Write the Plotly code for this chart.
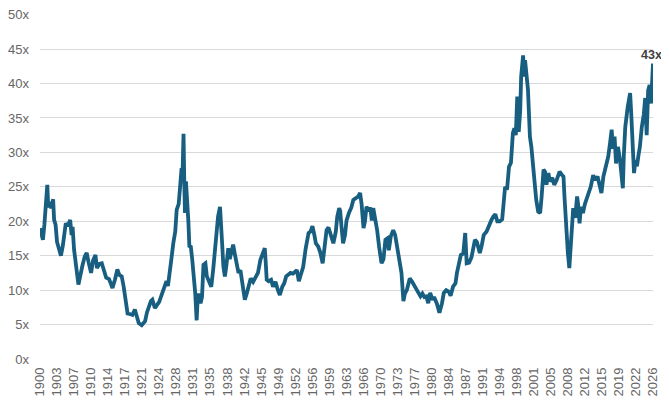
import plotly.graph_objects as go

# cyclically adjusted P/E (decimal year, multiple)
years = [
    1900.0, 1900.3, 1900.6, 1900.9, 1901.2, 1901.5, 1901.7, 1902.0, 1902.3, 1902.7,
    1902.9, 1903.2, 1903.5, 1904.0, 1904.3, 1904.7, 1905.0, 1905.3, 1905.7, 1906.2,
    1906.5, 1906.7, 1907.0, 1907.3, 1907.6, 1907.9, 1908.3, 1908.7, 1909.2, 1909.6,
    1910.0, 1910.5, 1910.9, 1911.4, 1911.7, 1912.2, 1912.7, 1913.2, 1913.6, 1914.2,
    1914.9, 1915.4, 1915.9, 1916.3, 1916.8, 1917.2, 1917.7, 1918.0, 1918.6, 1919.0,
    1919.5, 1919.9, 1920.3, 1920.9, 1921.6, 1922.0, 1922.4, 1922.8, 1923.1, 1923.6,
    1924.0, 1924.5, 1925.0, 1925.5, 1926.0, 1926.3, 1926.7, 1927.0, 1927.4, 1927.8,
    1928.1, 1928.5, 1928.8, 1929.1, 1929.3, 1929.5, 1929.65, 1929.8, 1930.0, 1930.2,
    1930.5, 1930.7, 1931.0, 1931.3, 1931.6, 1931.9, 1932.2, 1932.4, 1932.7, 1933.0,
    1933.3, 1933.6, 1934.0, 1934.3, 1934.6, 1934.9, 1935.2, 1935.6, 1935.9, 1936.2,
    1936.6, 1937.0, 1937.3, 1937.5, 1937.7, 1938.0, 1938.3, 1938.7, 1939.0, 1939.3,
    1939.7, 1940.0, 1940.4, 1940.8, 1941.2, 1941.6, 1942.1, 1942.5, 1942.9, 1943.3,
    1943.8, 1944.3, 1944.8, 1945.3, 1945.8, 1946.2, 1946.4, 1946.6, 1947.0, 1947.5,
    1947.9, 1948.4, 1948.9, 1949.3, 1949.8, 1950.2, 1950.6, 1951.0, 1951.5, 1952.0,
    1952.8, 1953.2, 1953.7, 1954.1, 1954.6, 1955.2, 1955.6, 1956.0, 1956.4, 1956.7,
    1957.2, 1957.6, 1958.1, 1958.5, 1958.9, 1959.3, 1959.8, 1960.3, 1960.8, 1961.1,
    1961.5, 1961.7, 1962.0, 1962.3, 1962.7, 1963.0, 1963.5, 1964.0, 1964.4, 1964.9,
    1965.4, 1965.8, 1966.1, 1966.5, 1966.8, 1967.1, 1967.6, 1967.9, 1968.2, 1968.5,
    1968.9, 1969.3, 1969.7, 1970.2, 1970.6, 1971.0, 1971.4, 1971.7, 1972.1, 1972.6,
    1973.0, 1973.4, 1973.9, 1974.3, 1974.7, 1975.0, 1975.4, 1976.0, 1976.5, 1977.0,
    1977.5, 1978.2, 1978.6, 1979.0, 1979.4, 1979.8, 1980.2, 1980.7, 1981.0, 1981.6,
    1982.1, 1982.6, 1983.0, 1983.5, 1984.0, 1984.4, 1984.9, 1985.4, 1985.7, 1986.0,
    1986.5, 1987.0, 1987.4, 1987.7, 1988.2, 1988.7, 1989.4, 1989.8, 1990.4, 1990.8,
    1991.2, 1991.8, 1992.3, 1992.8, 1993.2, 1993.6, 1994.0, 1994.5, 1995.0, 1995.6,
    1996.0, 1996.4, 1996.8, 1997.2, 1997.5, 1997.8, 1998.1, 1998.4, 1998.7, 1998.9,
    1999.3, 1999.5, 1999.7, 2000.0, 2000.3, 2000.7, 2001.0, 2001.4, 2001.7, 2002.0,
    2002.4, 2002.8, 2003.1, 2003.5, 2003.8, 2004.1, 2004.5, 2004.8, 2005.3, 2005.7,
    2006.2, 2006.8, 2007.2, 2007.6, 2007.8, 2008.1, 2008.5, 2008.8, 2009.2, 2009.6,
    2010.0, 2010.4, 2010.6, 2010.9, 2011.2, 2011.6, 2012.0, 2012.6, 2013.2, 2013.7,
    2014.1, 2014.6, 2015.0, 2015.4, 2015.8, 2016.3, 2016.8, 2017.2, 2017.5, 2017.8,
    2018.1, 2018.4, 2018.8, 2019.2, 2019.8, 2020.0, 2020.3, 2020.8, 2021.3, 2021.5,
    2021.8, 2022.1, 2022.4, 2022.7, 2023.0, 2023.3, 2023.7, 2024.1, 2024.4, 2024.7,
    2025.0, 2025.3, 2025.6, 2025.8, 2026.0,
]
cape = [
    19.0, 18.0, 17.3, 19.5, 22.5, 25.3, 22.0, 22.8, 21.9, 23.2,
    20.2, 19.5, 17.0, 15.4, 15.0, 16.5, 18.5, 19.7, 19.3, 20.2,
    18.0, 19.2, 15.9, 13.5, 12.5, 10.8, 12.5, 13.5, 14.9, 15.4,
    14.0, 12.5, 14.3, 15.1, 13.2, 13.8, 13.9, 12.5, 11.8, 11.6,
    10.3, 11.5, 13.0, 12.2, 12.0, 10.5, 8.1, 6.6, 6.5, 6.4,
    7.2, 6.3, 5.2, 4.9, 5.5, 6.8, 7.8, 8.4, 8.6, 7.4,
    7.8, 8.3, 9.3, 10.2, 11.3, 10.6, 13.5, 14.5, 16.8, 18.5,
    21.7, 22.5, 25.0, 27.7, 27.0, 32.7, 26.0, 21.2, 25.8, 22.0,
    20.0, 16.4, 16.3, 14.4, 12.0, 9.6, 5.6, 8.6, 9.5, 8.1,
    9.0, 13.7, 13.9, 12.0, 11.5, 11.0, 10.5, 13.0, 15.4, 18.7,
    20.7, 22.1, 19.2, 16.0, 13.4, 12.0, 13.5, 16.1, 14.5, 15.5,
    16.6, 15.4, 13.5, 12.5, 12.9, 10.5, 8.6, 9.5, 10.5, 11.7,
    11.2, 12.0, 12.5, 14.4, 15.5, 16.1, 14.0, 11.5, 11.3, 11.5,
    10.5, 11.2, 10.0, 9.3, 10.5, 11.0, 12.0, 12.2, 12.5, 12.4,
    12.9, 11.3, 12.5, 13.4, 16.0, 18.3, 18.5, 19.3, 18.0, 16.8,
    16.3, 15.5, 13.9, 16.5, 18.7, 19.1, 18.0, 16.8, 18.5, 20.7,
    21.9, 21.5, 19.0, 16.8, 18.0, 20.1, 21.2, 22.0, 23.1, 23.3,
    23.6, 24.1, 22.5, 19.0, 20.0, 22.1, 21.5, 22.0, 20.1, 21.9,
    20.5, 18.7, 16.3, 13.9, 14.5, 17.3, 17.5, 15.8, 17.8, 18.7,
    18.0, 16.3, 14.0, 12.5, 8.4, 9.5, 10.0, 11.7, 11.2, 10.5,
    10.0, 9.1, 9.5, 9.0, 9.1, 8.1, 9.6, 8.6, 9.0, 8.0,
    6.7, 8.0, 9.6, 10.0, 9.8, 9.2, 10.5, 11.0, 12.5, 13.7,
    15.1, 15.3, 18.3, 13.9, 14.0, 14.8, 17.3, 17.0, 15.4, 16.5,
    18.0, 18.5, 19.5, 20.2, 20.7, 21.0, 20.0, 20.0, 20.3, 25.0,
    24.6, 27.9, 28.5, 32.8, 33.5, 32.5, 38.1, 33.0, 36.0, 41.0,
    44.1, 41.0, 43.4, 41.5, 39.1, 32.3, 30.8, 27.7, 25.0, 23.1,
    21.4, 21.2, 23.5, 27.5, 27.2, 25.3, 27.0, 25.8, 26.3, 25.3,
    26.0, 27.2, 26.8, 26.5, 23.6, 19.3, 15.4, 13.2, 18.0, 21.9,
    20.5, 23.6, 22.5, 19.7, 22.1, 21.2, 22.5, 23.6, 25.0, 26.7,
    26.0, 26.5, 25.5, 24.1, 26.5, 28.0, 29.4, 31.5, 33.3, 30.5,
    32.3, 28.4, 30.8, 29.0, 24.8, 29.5, 33.7, 36.6, 38.6, 36.0,
    30.4, 27.0, 28.9, 28.0, 29.5, 30.8, 33.7, 35.5, 37.9, 32.5,
    39.0, 39.8, 37.1, 40.5, 42.9,
]

# axis labels every 42 months, as in the source chart
tick_years = [1900 + 3.5 * i for i in range(37)]
tick_text = [str(int(t)) for t in tick_years]
y_ticks = [0, 5, 10, 15, 20, 25, 30, 35, 40, 45, 50]
y_text = [f"{v}x" for v in y_ticks]
last_label = "43x"

line_color = "#175e80"
font = "Liberation Sans, Arial, sans-serif"

fig = go.Figure()
fig.add_trace(
    go.Scatter(
        x=years,
        y=cape,
        mode="lines",
        line=dict(color=line_color, width=3.8),
        hoverinfo="x+y",
        showlegend=False,
    )
)

fig.add_annotation(
    x=years[-1],
    y=cape[-1],
    text=f"<b>{last_label}</b>",
    showarrow=False,
    yanchor="bottom",
    xanchor="right",
    xshift=11,
    font=dict(family=font, size=12.5, color="#404040"),
)

# page body has an 8px margin, so the figure is sized to fit inside the window
fig.update_layout(
    width=661,
    height=396,
    margin=dict(l=32, r=16, t=6, b=45),
    paper_bgcolor="white",
    plot_bgcolor="white",
    font=dict(family=font, size=13, color="#666666"),
)
fig.update_xaxes(
    range=[1900, 2026],
    tickmode="array",
    tickvals=tick_years,
    ticktext=tick_text,
    tickangle=-90,
    showgrid=False,
    zeroline=False,
    showline=False,
    ticks="",
    ticklabelstandoff=5,
    ticklabeloverflow="allow",
    automargin=False,
)
# a hair above 50 so the top gridline is not dropped at the edge
fig.update_yaxes(
    range=[0, 50.1],
    tickmode="array",
    tickvals=y_ticks,
    ticktext=y_text,
    showgrid=True,
    gridcolor="#d9d9d9",
    gridwidth=1.3,
    zeroline=False,
    showline=False,
    ticks="",
    ticklabelstandoff=10,
    ticklabeloverflow="allow",
    automargin=False,
)

fig.write_html("out.html")
